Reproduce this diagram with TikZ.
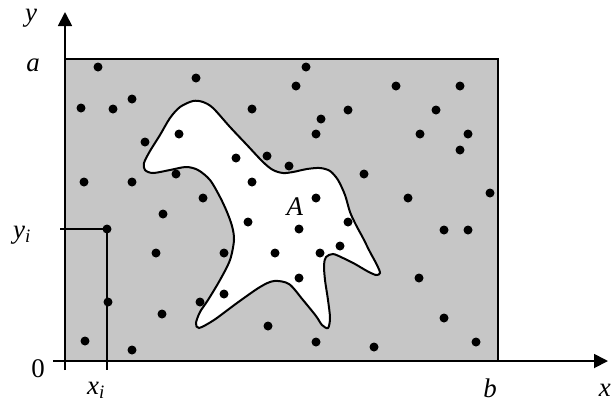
\documentclass[tikz,border=0pt]{standalone}
\usepackage{fontspec}
\setmainfont{Liberation Serif}
\usetikzlibrary{arrows.meta}
\definecolor{boxgrey}{HTML}{C6C6C6}
\newcommand{\lowi}{\raisebox{-4bp}{\fontsize{19}{20}\selectfont\textit{i}}}

\begin{document}
\begin{tikzpicture}[
    x=1bp, y=-1bp,
    font=\fontsize{27}{29}\selectfont,
    >={Triangle[length=14bp,width=14bp]},
    axis/.style={line width=1.8bp},
    hit/.style={fill=black}]
  \useasboundingbox (0,0) rectangle (612,403);

  % --- the box [0,b] x [0,a]
  \draw[fill=boxgrey,line width=1.4bp] (65,59) rectangle (498,361);

  % --- the set A
  \draw[fill=white,line width=2bp] plot[smooth cycle,tension=0.5] coordinates {
    (193,101) (203,102) (213,108) (230,127) (247,145) (263,162) (273,170)
    (283,173) (293,172) (307,169) (320,168) (330,171) (338,180) (345,195)
    (350,212) (356,225) (363,238) (370,252) (377,265) (380,273) (376,275)
    (367,271) (355,264) (343,258) (333,254) (326,257) (324,265) (325,280)
    (328,300) (330,318) (328,328) (322,325) (316,316) (303,300) (289,284)
    (274,281) (260,287) (237,303) (214,320) (199,328) (196,323) (200,312)
    (208,300) (220,280) (230,260) (234,240) (232,226) (227,212) (220,197)
    (210,180) (198,170) (186,167) (170,170) (153,173) (145,170) (144,163)
    (150,151) (160,135) (170,118) (180,107)};

  % --- random points
  \foreach \px/\py in {98/67, 196/78, 306/67, 296/86, 81/108, 113/109,
      132/99, 252/109, 179/134, 145/142, 236/158, 267/156, 289/166,
      84/182, 132/182, 176/174, 252/182, 203/198, 396/86, 460/86,
      348/110, 321/119, 436/110, 316/134, 420/134, 468/134, 460/150,
      364/174, 316/198, 408/198, 490/193, 163/214, 107/229, 248/222,
      299/229, 156/253, 224/253, 275/253, 299/278, 108/302, 200/302,
      224/294, 162/314, 85/341, 132/350, 268/326, 444/230, 468/230,
      348/222, 340/246, 320/253, 419/278, 444/318, 316/342, 374/347,
      476/342}
    \fill[hit] (\px,\py) circle[radius=4.5bp];

  % --- axes and the point (x_i, y_i)
  \coordinate (o) at (65,361);
  \coordinate (pt) at (107,229);
  \draw[axis,->] (53,361) -- (608,361);
  \draw[axis,->] (65,370) -- (65,12);
  \draw[line width=1.7bp] (60,229) -- (pt) -- (107,370);

  \node[anchor=base] (ylab) at (31,21) {\textit{y}};
  \node[anchor=base] (alab) at (33,71) {\textit{a}};
  \node[anchor=base west,inner sep=0pt] (yilab) at (13,238) {\textit{y}\lowi};
  \node[anchor=base] (zero) at (38,377) {0};
  \node[anchor=base west,inner sep=0pt] (xilab) at (87,394) {\textit{x}\lowi};
  \node[anchor=base,inner sep=0pt] (blab) at (490,397) {\textit{b}};
  \node[anchor=base east,inner sep=0pt] (xlab) at (611,396) {\textit{x}};
  \node[anchor=base] (Alab) at (295,215) {\textit{A}};
\end{tikzpicture}
\end{document}
